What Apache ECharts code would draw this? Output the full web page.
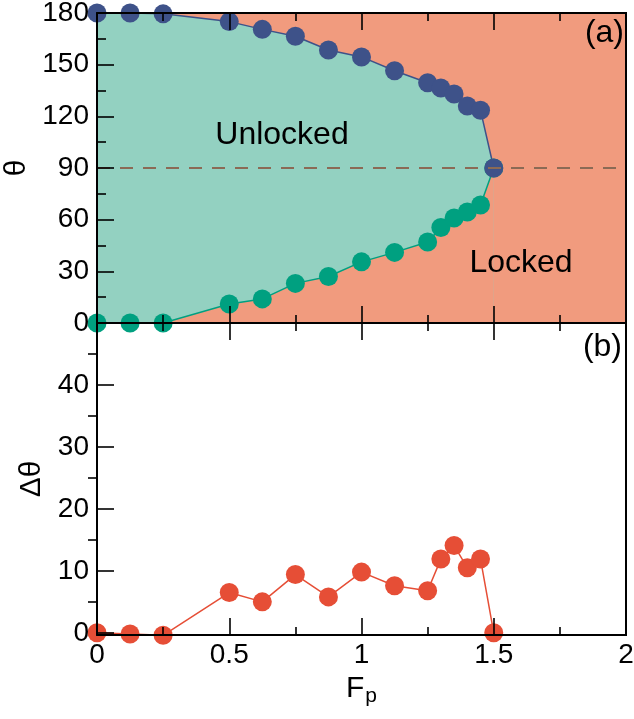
<!DOCTYPE html>
<html>
<head>
<meta charset="utf-8">
<script src="https://cdn.jsdelivr.net/npm/echarts@6/dist/echarts.min.js"></script>
<style>
  html, body { margin: 0; padding: 0; background: #ffffff; }
  #chart { width: 634px; height: 719px; }
</style>
</head>
<body>
<div id="chart"></div>
<script>
// Pinning force F_p sampled along the phase boundary
const fp = [0, 0.125, 0.25, 0.5, 0.625, 0.75, 0.875, 1.0, 1.125, 1.25, 1.3, 1.35, 1.4, 1.45, 1.5];
// Upper and lower boundary angles of the unlocked region (degrees)
const thetaUpper = [180, 180, 179.5, 175, 170.5, 166.5, 158.5, 154.5, 146.5, 139.5, 136.5, 133, 126, 123.5, 90];
const thetaLower = [0, 0, 0, 11, 14, 23, 27, 35.5, 41, 47, 55.5, 61, 64.5, 68.5, 90];
// Width Δθ of the hysteresis window
const dTheta = [0, -0.2, -0.4, 6.5, 5, 9.4, 5.8, 9.8, 7.6, 6.8, 11.9, 14.1, 10.5, 11.9, 0];

const thetaTicks = [0, 30, 60, 90, 120, 150, 180];
const dThetaLabels = [0, 10, 20, 30, 40];
const dThetaMajor = [0, 10, 20, 30, 40, 50];
const dThetaMinor = [5, 15, 25, 35, 45];
const fpTicks = [0, 0.5, 1, 1.5, 2];

const FONT = "'Liberation Sans', Arial, Helvetica, sans-serif";
const C_LOCKED = '#f19b7e';
const C_UNLOCKED = '#93d1c1';
const C_BLUE = '#3e5289';
const C_GREEN = '#00a080';
const C_RED = '#e64e36';
const C_DASH = '#8b6a55';

const pairs = (xs, ys) => xs.map((x, i) => [x, ys[i]]);

const tickStyle = { lineStyle: { color: '#000', width: 1.6 } };

function xAxisDef(gridIndex, position, withLabels) {
  return {
    type: 'value', gridIndex, position, min: 0, max: 2, interval: 0.5, z: 5,
    axisLine: { show: true, onZero: false, lineStyle: { color: '#000', width: 2 } },
    axisTick: { show: true, inside: true, length: 17, ...tickStyle },
    minorTick: { show: true, splitNumber: 2, length: 8, ...tickStyle },
    splitLine: { show: false },
    axisLabel: withLabels ? {
      show: true, fontFamily: FONT, fontSize: 28, color: '#000', margin: 6,
      customValues: fpTicks,
      formatter: v => String(v)
    } : { show: false },
    name: withLabels ? '{f|F}{s|p}' : '',
    nameLocation: 'middle',
    nameGap: 35,
    nameTextStyle: {
      rich: {
        f: { fontFamily: FONT, fontSize: 30, color: '#000' },
        s: { fontFamily: FONT, fontSize: 21, color: '#000', padding: [16, 0, 0, 1] }
      }
    }
  };
}

const option = {
  animation: false,
  backgroundColor: '#ffffff',
  grid: [
    { left: 97, right: 8, top: 13, height: 310, outerBoundsMode: 'none', containLabel: false, show: true, backgroundColor: C_LOCKED, borderColor: '#000', borderWidth: 2, z: 0 },
    { left: 97, right: 8, top: 323, height: 312, outerBoundsMode: 'none', containLabel: false, show: true, backgroundColor: 'transparent', borderColor: '#000', borderWidth: 2, z: 0 }
  ],
  xAxis: [
    xAxisDef(0, 'bottom', false),
    xAxisDef(0, 'top', false),
    xAxisDef(1, 'bottom', true),
    xAxisDef(1, 'top', false)
  ],
  yAxis: [
    {
      type: 'value', gridIndex: 0, min: 0, max: 180, interval: 30, z: 5,
      axisLine: { show: true, lineStyle: { color: '#000', width: 2 } },
      axisTick: { show: true, inside: true, length: 17, ...tickStyle },
      minorTick: { show: true, splitNumber: 2, length: 9, ...tickStyle },
      splitLine: { show: false },
      axisLabel: { fontFamily: FONT, fontSize: 28, color: '#000', margin: 8, customValues: thetaTicks },
      name: 'θ', nameLocation: 'middle', nameRotate: 90, nameGap: 60,
      nameTextStyle: { fontFamily: FONT, fontSize: 30, color: '#000' }
    },
    {
      type: 'value', gridIndex: 1, min: -0.35, max: 50, z: 5,
      axisLine: { show: true, lineStyle: { color: '#000', width: 2 } },
      axisTick: { show: true, inside: true, length: 17, customValues: dThetaMajor, ...tickStyle },
      splitLine: { show: false },
      axisLabel: { fontFamily: FONT, fontSize: 28, color: '#000', margin: 8, customValues: dThetaLabels },
      name: 'Δθ', nameLocation: 'middle', nameRotate: 90, nameGap: 39,
      nameTextStyle: { fontFamily: FONT, fontSize: 30, color: '#000' }
    },
    {
      type: 'value', gridIndex: 1, min: -0.35, max: 50, z: 5,
      axisLine: { show: false },
      axisTick: { show: true, inside: true, length: 9, customValues: dThetaMinor, ...tickStyle },
      splitLine: { show: false },
      axisLabel: { show: false }
    }
  ],
  series: [
    // unlocked region: fill below the upper boundary
    {
      type: 'line', xAxisIndex: 0, yAxisIndex: 0, z: 1, silent: true, clip: false,
      data: pairs(fp, thetaUpper), symbol: 'none',
      lineStyle: { width: 0, opacity: 0 },
      areaStyle: { color: C_UNLOCKED, opacity: 1 }
    },
    // locked region restored below the lower boundary
    {
      type: 'line', xAxisIndex: 0, yAxisIndex: 0, z: 1, silent: true, clip: false,
      data: pairs(fp, thetaLower), symbol: 'none',
      lineStyle: { width: 0, opacity: 0 },
      areaStyle: { color: C_LOCKED, opacity: 1 },
      markLine: {
        silent: true, symbol: ['none', 'none'], label: { show: false },
        lineStyle: { color: C_DASH, width: 2, type: [13, 10] },
        data: [{ yAxis: 90 }]
      }
    },
    {
      type: 'line', xAxisIndex: 0, yAxisIndex: 0, z: 3, clip: false,
      data: pairs(fp, thetaLower),
      symbol: 'circle', symbolSize: 19,
      itemStyle: { color: C_GREEN },
      lineStyle: { color: C_GREEN, width: 1.5 }
    },
    {
      type: 'line', xAxisIndex: 0, yAxisIndex: 0, z: 3, clip: false,
      data: pairs(fp, thetaUpper),
      symbol: 'circle', symbolSize: 19,
      itemStyle: { color: C_BLUE },
      lineStyle: { color: C_BLUE, width: 1.5 }
    },
    {
      type: 'line', xAxisIndex: 2, yAxisIndex: 1, z: 3, clip: false,
      data: pairs(fp, dTheta),
      symbol: 'circle', symbolSize: 19,
      itemStyle: { color: C_RED },
      lineStyle: { color: C_RED, width: 1.5 }
    }
  ],
  graphic: [
    { type: 'text', z: 10, style: { text: '(a)', x: 624, y: 33, textAlign: 'right', textVerticalAlign: 'middle', font: '32px ' + FONT, fill: '#000' } },
    { type: 'text', z: 10, style: { text: '(b)', x: 622, y: 347, textAlign: 'right', textVerticalAlign: 'middle', font: '32px ' + FONT, fill: '#000' } },
    { type: 'text', z: 10, style: { text: 'Unlocked', x: 282, y: 135, textAlign: 'center', textVerticalAlign: 'middle', font: '32px ' + FONT, fill: '#000' } },
    { type: 'text', z: 10, style: { text: 'Locked', x: 521, y: 263, textAlign: 'center', textVerticalAlign: 'middle', font: '32px ' + FONT, fill: '#000' } }
  ]
};

const chart = echarts.init(document.getElementById('chart'), null, { renderer: 'canvas' });
chart.setOption(option);
</script>
</body>
</html>
